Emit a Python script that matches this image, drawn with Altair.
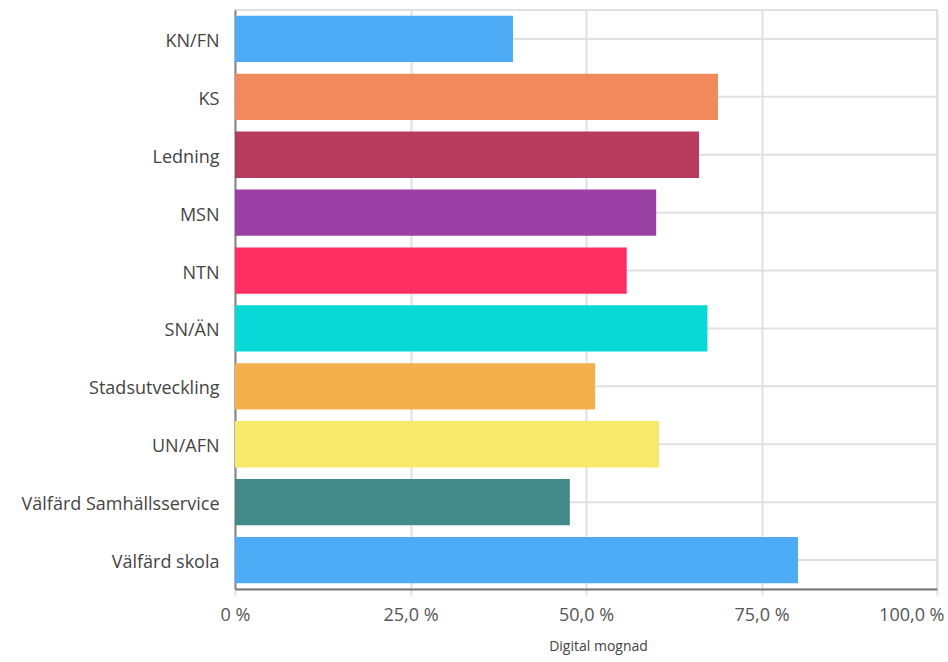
import altair as alt
import pandas as pd

# Digital maturity per unit (percent)
units = [
    "KN/FN", "KS", "Ledning", "MSN", "NTN", "SN/ÄN",
    "Stadsutveckling", "UN/AFN", "Välfärd Samhällsservice", "Välfärd skola",
]
maturity = [39.6, 68.8, 66.1, 60.0, 55.8, 67.3, 51.3, 60.4, 47.7, 80.2]
colors = [
    "#4eabf5", "#f08a5d", "#b83b5e", "#9a40a5", "#ff2e63", "#08d9d6",
    "#f5b04e", "#f8e96b", "#438a8a", "#4eabf5",
]
x_ticks = [0, 25, 50, 75, 100]

df = pd.DataFrame({"unit": units, "value": maturity, "color": colors})

FONT = "Open Sans"
GRID = "#e0e0e0"

label_expr = (
    "datum.value == 0 ? '0 %' : "
    "replace(format(datum.value, '.1f'), '.', ',') + ' %'"
)

y_enc = alt.Y(
    "unit:N",
    sort=units,
    title=None,
    scale=alt.Scale(paddingInner=0.2, paddingOuter=0.1),
    axis=alt.Axis(
        grid=False,
        domainColor="#888888",
        domainWidth=2,
        ticks=False,
        labelFont=FONT,
        labelFontSize=18,
        labelColor="#444444",
        labelPadding=16,
        labelOffset=3,
        labelLimit=300,
    ),
)

x_scale = alt.Scale(domain=[0, 100], nice=False)

# horizontal guide lines through the centre of every category band
guides = (
    alt.Chart(df)
    .mark_rule(color=GRID, strokeWidth=2)
    .encode(
        y=y_enc,
        x=alt.datum(0, scale=x_scale),
        x2=alt.datum(100),
    )
)

bars = (
    alt.Chart(df)
    .mark_bar()
    .encode(
        y=y_enc,
        x=alt.X(
            "value:Q",
            title="Digital mognad",
            scale=x_scale,
            axis=alt.Axis(
                values=x_ticks,
                labelExpr=label_expr,
                labelFlush=False,
                labelAlign={"expr": "datum.value == 100 ? 'right' : 'center'"},
                labelOffset={"expr": "datum.value == 100 ? 7 : 0"},
                grid=True,
                gridColor=GRID,
                gridWidth=2,
                domainColor="#777777",
                domainWidth=2,
                tickColor=GRID,
                tickWidth=2,
                tickSize=6,
                labelFont=FONT,
                labelFontSize=18,
                labelColor="#555555",
                labelPadding=11,
                titleFont=FONT,
                titleFontSize=14,
                titleFontWeight="normal",
                titleColor="#444444",
                titlePadding=15,
                titleX=363,
            ),
        ),
        color=alt.Color("color:N", scale=None, legend=None),
    )
)

chart = (
    alt.layer(guides, bars)
    .properties(
        width=702,
        height=579,
        autosize=alt.AutoSizeParams(type="none"),
        padding={"left": 235, "top": 10, "right": 11, "bottom": 73},
    )
    .configure_view(stroke=GRID, strokeWidth=2)
)

chart.save("out.html", embed_options={"renderer": "svg", "actions": False})
